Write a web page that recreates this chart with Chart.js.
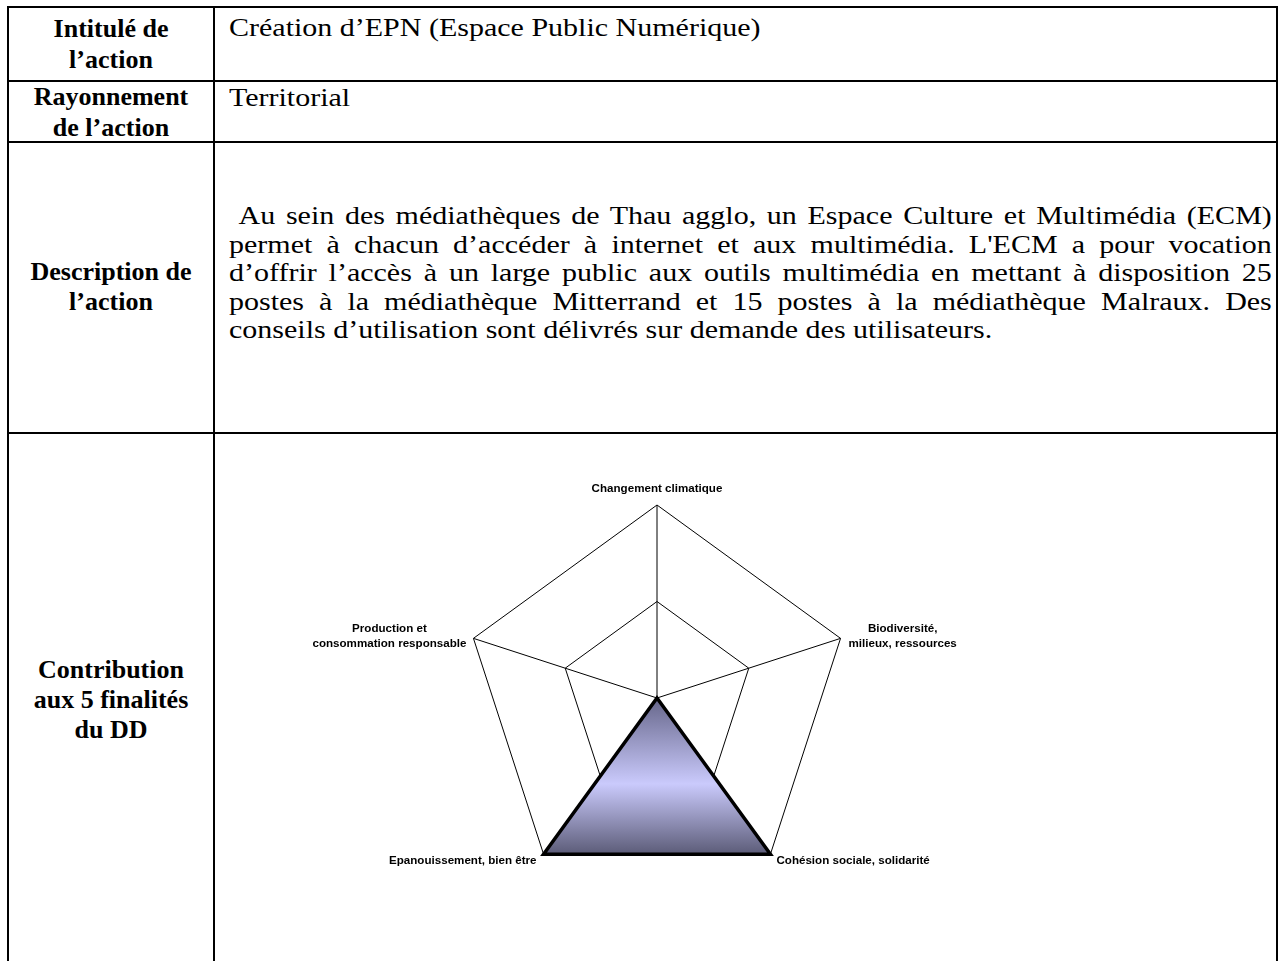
<!DOCTYPE html>
<html>
<head>
<meta charset="utf-8">
<script src="https://cdn.jsdelivr.net/npm/chart.js@4.4.1/dist/chart.umd.min.js"></script>
<style>
  html, body { margin: 0; padding: 0; background: #fff; overflow: hidden; }
  body { width: 1279px; height: 961px; position: relative; font-family: "Liberation Serif", serif; color: #000; }
  .line { position: absolute; background: #000; }
  .lbl { position: absolute; left: 9px; width: 204px; text-align: center; font-weight: bold; font-size: 26px; line-height: 31px; }
  /* body text is a wide Garamond in the original: stretch the serif to match */
  .txt { position: absolute; left: 229px; font-size: 25px; line-height: 28.5px; white-space: nowrap; transform: scaleX(1.2); transform-origin: 0 0; }
  .para { position: absolute; left: 229px; width: 869px; font-size: 25px; line-height: 28.5px; transform: scaleX(1.2); transform-origin: 0 0; }
  .para span { display: block; white-space: nowrap; text-align: justify; text-align-last: justify; }
  .para span.first { padding-left: 8px; }
  .para span.last { text-align-last: left; }
  #wrap { position: absolute; left: 290px; top: 470px; width: 734px; height: 456px; }
</style>
</head>
<body>
  <!-- table rules -->
  <div class="line" style="left:7px; top:6px; width:1271px; height:2px"></div>
  <div class="line" style="left:7px; top:80px; width:1271px; height:2px"></div>
  <div class="line" style="left:7px; top:141px; width:1271px; height:2px"></div>
  <div class="line" style="left:7px; top:432px; width:1271px; height:2px"></div>
  <div class="line" style="left:7px; top:6px; width:2px; height:960px"></div>
  <div class="line" style="left:213px; top:6px; width:2px; height:960px"></div>
  <div class="line" style="left:1276px; top:6px; width:2px; height:960px"></div>

  <div class="lbl" style="top:13px">Intitulé de<br>l’action</div>
  <div class="txt" style="top:14px">Création d’EPN (Espace Public Numérique)</div>

  <div class="lbl" style="top:81px">Rayonnement<br>de l’action</div>
  <div class="txt" style="top:84px">Territorial</div>

  <div class="lbl" style="top:257px; line-height:30px">Description de<br>l’action</div>
  <div class="para" style="top:202px">
    <span class="first">Au sein des médiathèques de Thau agglo, un Espace Culture et Multimédia (ECM)</span>
    <span>permet à chacun d’accéder à internet et aux multimédia. L'ECM a pour vocation</span>
    <span>d’offrir l’accès à un large public aux outils multimédia en mettant à disposition 25</span>
    <span>postes à la médiathèque Mitterrand et 15 postes à la médiathèque Malraux. Des</span>
    <span class="last">conseils d’utilisation sont délivrés sur demande des utilisateurs.</span>
  </div>

  <div class="lbl" style="top:655px; line-height:30px">Contribution<br>aux 5 finalités<br>du DD</div>

  <div id="wrap"><canvas id="radar"></canvas></div>

<script>
/* ==========================
   DATA
========================== */
const axes = [
    ["Changement climatique"],
    ["Biodiversité,", "milieux, ressources"],
    ["Cohésion sociale, solidarité"],
    ["Epanouissement, bien être"],
    ["Production et", "consommation responsable"]
];
const scores = [0, 0, 2, 2, 0];
const scaleMin = 0;
const scaleMax = 2;
const scaleStep = 1;

/* ==========================
   LABELS (drawn next to each outer vertex)
========================== */
// align, dx, dy of the text block centre relative to the vertex
const labelPlace = [
    { align: "center", dx: 0, dy: -16 },
    { align: "left", dx: 8, dy: -2 },
    { align: "left", dx: 6, dy: 7 },
    { align: "right", dx: -7, dy: 7 },
    { align: "right", dx: -7, dy: -2 }
];

const axisLabelPlugin = {
    id: "axisLabels",
    afterDraw(chart) {
        const scale = chart.scales.r;
        const ctx = chart.ctx;
        const lineH = 15;
        ctx.save();
        ctx.font = "bold 11.6px 'Liberation Sans', Arial, sans-serif";
        ctx.fillStyle = "#000";
        ctx.textBaseline = "middle";
        ctx.textAlign = "center";
        axes.forEach((lines, i) => {
            const p = scale.getPointPosition(i, scale.drawingArea);
            const place = labelPlace[i];
            const blockW = Math.max(...lines.map(l => ctx.measureText(l).width));
            let cx = p.x + place.dx;
            if (place.align === "left") cx += blockW / 2;
            if (place.align === "right") cx -= blockW / 2;
            const top = p.y + place.dy - (lines.length - 1) * lineH / 2;
            lines.forEach((l, j) => ctx.fillText(l, cx, top + j * lineH));
        });
        ctx.restore();
    }
};

/* ==========================
   CHART
========================== */
function fillGradient(context) {
    const chart = context.chart;
    const scale = chart.scales.r;
    if (!chart.chartArea || !scale) return "#c8c8f8";
    const y0 = scale.yCenter;
    const y1 = scale.getPointPosition(2, scale.getDistanceFromCenterForValue(scaleMax)).y;
    const g = chart.ctx.createLinearGradient(0, y0, 0, y1);
    g.addColorStop(0, "#66668a");
    g.addColorStop(0.55, "#cacafc");
    g.addColorStop(1, "#5c5c78");
    return g;
}

new Chart(document.getElementById("radar"), {
    type: "radar",
    data: {
        labels: axes,
        datasets: [{
            data: scores,
            fill: true,
            backgroundColor: fillGradient,
            borderColor: "#000",
            borderWidth: 3.5,
            borderJoinStyle: "miter",
            pointRadius: 0,
            pointHoverRadius: 0
        }]
    },
    options: {
        responsive: true,
        maintainAspectRatio: false,
        animation: false,
        layout: { padding: { left: 174, right: 174, top: 35, bottom: 35 } },
        plugins: { legend: { display: false }, tooltip: { enabled: false } },
        elements: { line: { tension: 0 } },
        scales: {
            r: {
                min: scaleMin,
                max: scaleMax,
                ticks: { display: false, stepSize: scaleStep },
                grid: { color: "#000", lineWidth: 1 },
                angleLines: { color: "#000", lineWidth: 1 },
                pointLabels: { display: false }
            }
        }
    },
    plugins: [axisLabelPlugin]
});
</script>
</body>
</html>
